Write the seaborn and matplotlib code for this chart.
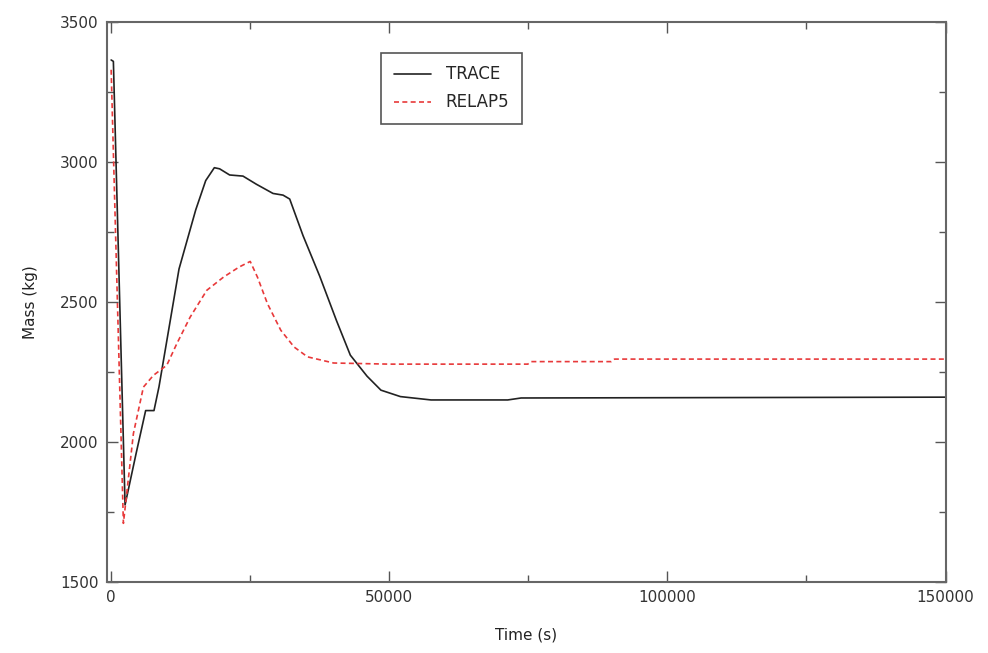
import pandas as pd
import matplotlib.pyplot as plt
from matplotlib.ticker import MultipleLocator
import seaborn as sns

# TRACE curve (time in s, mass in kg)
trace_t = [0, 400, 2500, 4500, 6200, 7700, 8600, 12200, 15200, 17000, 18550,
           19500, 21300, 23700, 26100, 29100, 30900, 32100, 34500, 37500,
           40500, 43000, 46000, 48500, 52000, 57500, 71300, 73700, 150000]
trace_m = [3365, 3360, 1775, 1960, 2112, 2112, 2197, 2618, 2829, 2934, 2980,
           2976, 2954, 2950, 2921, 2888, 2882, 2868, 2737, 2592,
           2434, 2310, 2235, 2185, 2162, 2150, 2150, 2157, 2160]

# RELAP5 curve
relap_t = [0, 2200, 4000, 5800, 7600, 10000, 11800, 14200, 17200, 20200,
           23000, 25000, 26300, 28100, 30500, 32900, 35300, 40000, 50000,
           74900, 75500, 89900, 90500, 150000]
relap_m = [3330, 1709, 2030, 2196, 2238, 2274, 2351, 2446, 2542, 2589,
           2625, 2645, 2589, 2494, 2399, 2339, 2304, 2282, 2278,
           2278, 2287, 2287, 2296, 2296]

df_trace = pd.DataFrame({'Time': trace_t, 'Mass': trace_m})
df_relap = pd.DataFrame({'Time': relap_t, 'Mass': relap_m})

sns.set_theme(style="white")
plt.rcParams['font.family'] = ['DejaVu Sans']

fig = plt.figure(figsize=(9.88, 6.53), dpi=100)
ax = fig.add_axes([0.108, 0.109, 0.849, 0.857])

sns.lineplot(data=df_trace, x='Time', y='Mass', ax=ax, color='#222222',
             linewidth=1.2, label='TRACE', sort=False)
sns.lineplot(data=df_relap, x='Time', y='Mass', ax=ax, color='#e8393a',
             linewidth=1.2, linestyle=(0, (3, 2)), label='RELAP5', sort=False)

ax.set_xlim(-800, 150000)
ax.set_ylim(1500, 3500)
ax.xaxis.set_major_locator(MultipleLocator(50000))
ax.xaxis.set_minor_locator(MultipleLocator(25000))
ax.yaxis.set_major_locator(MultipleLocator(500))
ax.yaxis.set_minor_locator(MultipleLocator(250))
ax.tick_params(which='both', direction='in', top=True, right=True,
               bottom=True, left=True,
               color='#555555', labelcolor='#333333', labelsize=11)
ax.tick_params(which='major', length=8, width=1, pad=6)
ax.tick_params(which='minor', length=5, width=1)
for s in ax.spines.values():
    s.set_color('#666666')
    s.set_linewidth(1.5)

ax.set_xlabel('Time (s)', fontsize=11, color='#222222', labelpad=16)
ax.set_ylabel('Mass (kg)', fontsize=11, color='#222222', labelpad=16)

leg = ax.legend(loc='upper left', bbox_to_anchor=(0.3175, 0.96), fontsize=12,
                frameon=True, fancybox=False, framealpha=1, handlelength=2.2,
                handletextpad=0.9, borderpad=0.75, labelspacing=0.6)
leg.get_frame().set_edgecolor('#555555')
leg.get_frame().set_linewidth(1.2)

plt.savefig('out.png', dpi=100)
